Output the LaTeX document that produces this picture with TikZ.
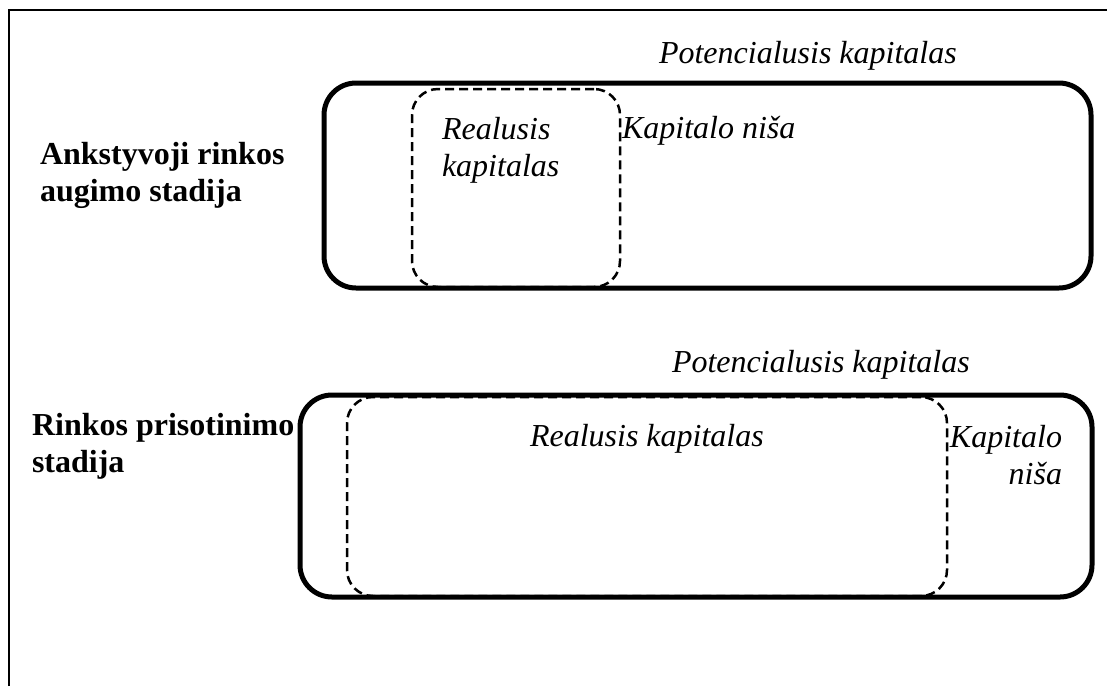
\documentclass[tikz,border=0pt]{standalone}
\usepackage{fontspec}
\setmainfont{Liberation Serif}
\usetikzlibrary{positioning}

\begin{document}
\begin{tikzpicture}[x=1pt, y=-1pt]
\tikzstyle{every node}=[inner sep=0pt, outer sep=0pt, font=\fontsize{32}{37}\selectfont]
\tikzstyle{potbox}=[draw, line width=5pt, rounded corners=32pt]
\tikzstyle{realbox}=[draw, line width=2.5pt, dash pattern=on 9pt off 5pt, rounded corners=26pt]
\tikzstyle{capt}=[font=\fontsize{32}{37}\selectfont\itshape, align=left]
\tikzstyle{stage}=[font=\fontsize{32}{37}\selectfont\bfseries, align=left]
\useasboundingbox (0,0) rectangle (1107,686);
\draw[line width=2pt] (9,686) -- (9,10) -- (1107,10);

\node[potbox, minimum width=767pt, minimum height=205pt]  (pot1) at (707.5,185.5) {};
\node[realbox, minimum width=208pt, minimum height=198pt] (real1) at (516,188) {};
\node[capt, anchor=base west]  (pk1) at (659,63)  {Potencialusis kapitalas};
\node[capt, anchor=base west]  (rk1) at (442,176) {Realusis\\kapitalas};
\node[capt, anchor=base west]  (kn1) at (622,138) {Kapitalo niša};
\node[stage, anchor=base west] (st1) at (40,201)  {Ankstyvoji rinkos\\augimo stadija};

\node[potbox, minimum width=792pt, minimum height=202pt]  (pot2) at (696,496) {};
\node[realbox, minimum width=600pt, minimum height=199pt] (real2) at (647,496.5) {};
\node[capt, anchor=base west]  (pk2) at (672,372) {Potencialusis kapitalas};
\node[capt, anchor=base west]  (rk2) at (530,446) {Realusis kapitalas};
\node[capt, anchor=base east, align=right] (kn2) at (1062,484) {Kapitalo\\niša};
\node[stage, anchor=base west] (st2) at (32,472)  {Rinkos prisotinimo\\stadija};
\end{tikzpicture}
\end{document}
